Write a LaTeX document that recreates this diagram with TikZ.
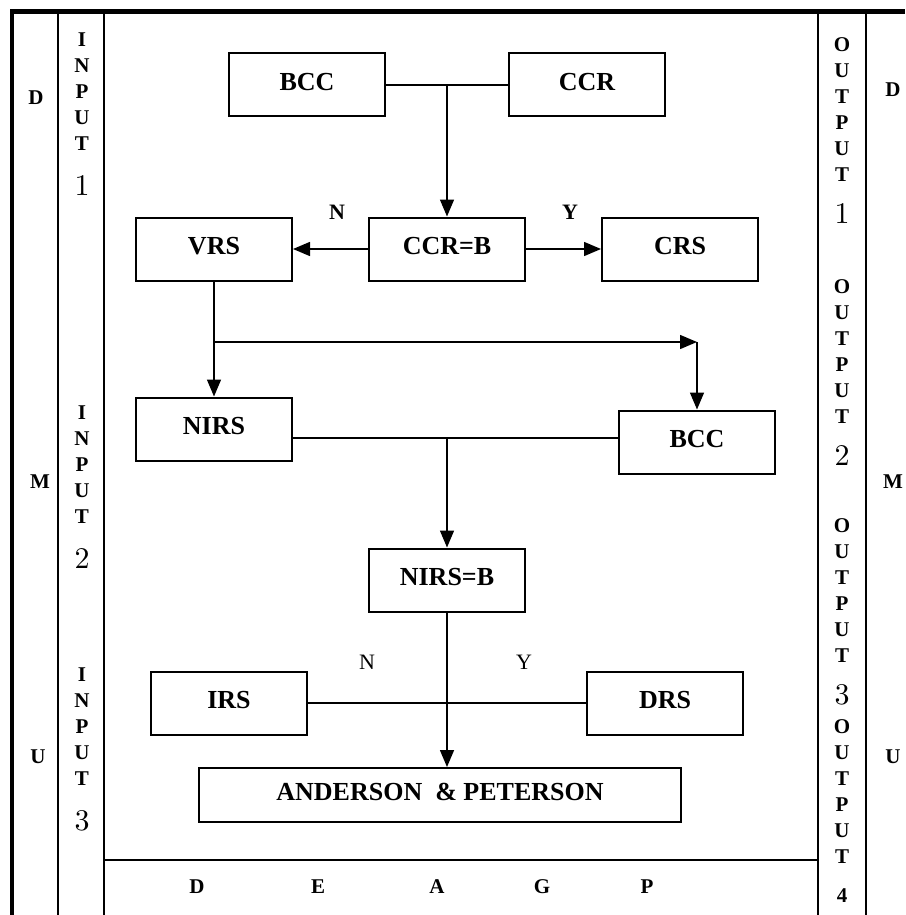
\documentclass[tikz,border=0pt]{standalone}
\usepackage{fontspec}
\setmainfont{Liberation Serif}
\newfontfamily\digitfont{lmroman10-regular.otf}
\usetikzlibrary{arrows.meta,positioning,calc}
\tikzstyle{box}=[draw,line width=2pt,minimum width=156pt,minimum
height=63pt,inner sep=0pt,text depth=6pt,font=\fontsize{26}{26}\selectfont\bfseries]
\tikzstyle{flow}=[line width=1.5pt]
\tikzstyle{frame}=[line width=1.5pt]
\tikzstyle{lbl}=[inner sep=0pt,font=\fontsize{21}{21}\selectfont\bfseries]
\tikzstyle{yn}=[inner sep=0pt,font=\fontsize{22}{22}\selectfont]
\tikzstyle{digit}=[inner sep=0pt,font=\digitfont\fontsize{30}{30}\selectfont]

\begin{document}
\begin{tikzpicture}[x=1pt, y=-1pt, >={Triangle[length=17pt,width=14pt]},
  node distance=233pt, on grid]
  \useasboundingbox (0,0) rectangle (905,915);

  % frame and columns
  \draw[line width=5pt] (10,12) -- (905,12);
  \draw[line width=4.5pt] (12,10) -- (12,915);
  \foreach \xc in {58,104,818,866}
    \draw[frame] (\xc,12) -- (\xc,915);
  \draw[frame] (104,860) -- (818,860);

  \node[lbl] (dl) at (36,98) {D};
  \node[lbl] (ml) at (40,482) {M};
  \node[lbl] (ul) at (38,757) {U};
  \node[lbl] (dr) at (893,90) {D};
  \node[lbl] (mr) at (893,482) {M};
  \node[lbl] (ur) at (893,757) {U};

  \foreach \top/\d [count=\k] in {40/1,413/2,675/3}{
    \foreach \ch [count=\i] in {I,N,P,U,T}
      \node[lbl] (in\k-\i) at (82,\top+26*\i-26) {\ch};
    \node[digit] (in\k-d) at (82,\top+146) {\d};
  }
  \foreach \top/\d [count=\k] in {45/1,287/2,526/3}{
    \foreach \ch [count=\i] in {O,U,T,P,U,T}
      \node[lbl] (out\k-\i) at (842,\top+26*\i-26) {\ch};
    \node[digit] (out\k-d) at (842,\top+169) {\d};
  }
  \foreach \ch [count=\i] in {O,U,T,P,U,T}
    \node[lbl] (out4-\i) at (842,727+26*\i-26) {\ch};
  \node[lbl] (out4-d) at (842,896) {4};

  \foreach \ch/\xc in {D/197,E/318,A/437,G/542,P/647}
    \node[lbl] (b\ch) at (\xc,887) {\ch};

  % boxes
  \node[box] (bcc1) at (307,85) {BCC};
  \node[box, right=280pt of bcc1] (ccr) {CCR};
  \node[box] (ccrb) at (447,249) {CCR=B};
  \node[box, left=of ccrb] (vrs) {VRS};
  \node[box, right=of ccrb] (crs) {CRS};
  \node[box, below=180pt of vrs] (nirs) {NIRS};
  \node[box] (bcc2) at (697,442) {BCC};
  \node[box] (nirsb) at (447,580) {NIRS=B};
  \node[box] (irs) at (229,703) {IRS};
  \node[box] (drs) at (665,703) {DRS};
  \node[box, minimum width=482pt, minimum height=54pt] (ap) at (440,795)
    {ANDERSON\ \ \&\ PETERSON};

  % connectors
  \coordinate (j1) at ($(bcc1.east)!.5!(ccr.west)$);
  \draw[flow] (bcc1) -- (ccr);
  \draw[flow,->] (j1) -- (j1 |- ccrb.north);
  \draw[flow,->] (ccrb) -- (vrs);
  \draw[flow,->] (ccrb) -- (crs);
  \node[lbl, font=\fontsize{22}{22}\selectfont\bfseries] (n1) at (337,212) {N};
  \node[lbl, font=\fontsize{22}{22}\selectfont\bfseries] (y1) at (570,212) {Y};

  \coordinate (br) at (214,342);
  \draw[flow,->] (vrs) -- (nirs);
  \draw[flow,->] (br) -- (br -| bcc2);
  \draw[flow,->] (br -| bcc2) -- (bcc2);

  \coordinate (j2) at (447,438);
  \draw[flow] (nirs.east |- j2) -- (bcc2.west |- j2);
  \draw[flow,->] (j2) -- (nirsb);
  \draw[flow,->] (nirsb) -- (nirsb |- ap.north);
  \draw[flow] (irs) -- (drs);
  \node[yn] (n2) at (367,662) {N};
  \node[yn] (y2) at (524,662) {Y};
\end{tikzpicture}
\end{document}
